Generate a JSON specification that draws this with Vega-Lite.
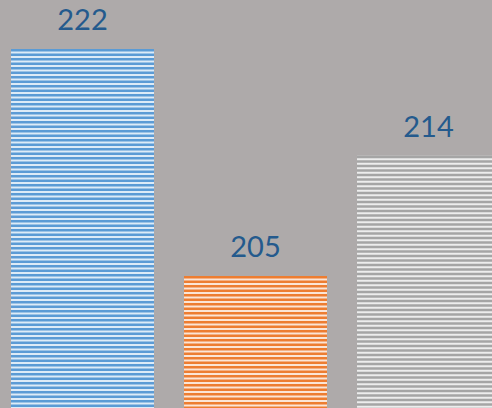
{
  "$schema": "https://vega.github.io/schema/vega-lite/v6.json",
  "width": 492,
  "height": 408,
  "padding": 0,
  "autosize": {"type": "none"},
  "background": "#AEAAAA",
  "config": {"view": {"stroke": null}},
  "data": {"values": [
    {"category": "A", "value": 222},
    {"category": "B", "value": 205},
    {"category": "C", "value": 214}
  ]},
  "encoding": {
    "x": {"field": "category", "type": "nominal", "axis": null,
      "scale": {"range": [0, 511], "paddingInner": 0.1734, "paddingOuter": 0.0636}},
    "y": {"field": "value", "type": "quantitative", "axis": null,
      "scale": {"domain": [195.11, 225.67], "zero": false, "nice": false}}
  },
  "layer": [
    {
      "mark": {"type": "bar", "clip": true},
      "encoding": {
        "y2": {"datum": 195.11},
        "fill": {"field": "category", "type": "nominal", "legend": null,
          "scale": {"domain": ["A", "B", "C"], "range": ["#DDEBF7", "#FBE5D6", "#EDEDED"]}}
      }
    },
    {
      "mark": {"type": "rule", "clip": true, "strokeWidth": 143, "strokeDash": [2.5, 2], "strokeCap": "butt"},
      "encoding": {
        "y2": {"datum": 195.11},
        "stroke": {"field": "category", "type": "nominal", "legend": null,
          "scale": {"domain": ["A", "B", "C"], "range": ["#5B9BD5", "#ED7D31", "#A5A5A5"]}}
      }
    },
    {
      "mark": {"type": "text", "font": "Lato", "fontSize": 29, "color": "#245A8D", "baseline": "alphabetic", "dy": -19},
      "encoding": {"text": {"field": "value", "type": "quantitative"}}
    }
  ]
}
